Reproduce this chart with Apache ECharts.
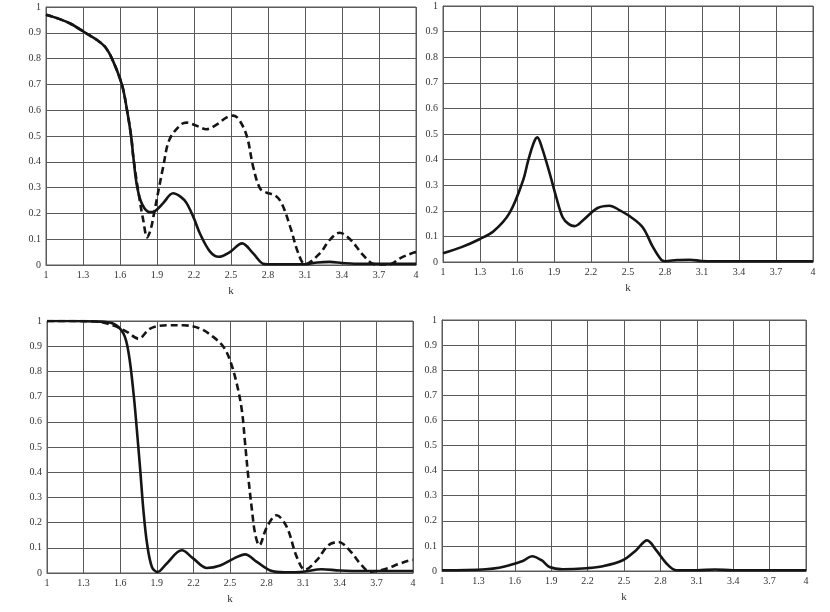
<!DOCTYPE html>
<html>
<head>
<meta charset="utf-8">
<script src="https://cdn.jsdelivr.net/npm/echarts@6/dist/echarts.min.js"></script>
<style>
html,body{margin:0;padding:0;background:#fff;}
#c{width:830px;height:612px;}
</style>
</head>
<body>
<div id="c"></div>
<script>
// x tick labels (k) and y tick labels
const kTicks = [1, 1.3, 1.6, 1.9, 2.2, 2.5, 2.8, 3.1, 3.4, 3.7, 4];
const yTicks = [0, 0.1, 0.2, 0.3, 0.4, 0.5, 0.6, 0.7, 0.8, 0.9, 1];

// Panel 1 (top-left)
const p1SolidK = [1, 1.1, 1.2, 1.32, 1.42, 1.48, 1.535, 1.615, 1.657, 1.69, 1.71, 1.74, 1.78, 1.84, 1.88, 1.95, 2.03, 2.09, 2.14, 2.2, 2.25, 2.33, 2.4, 2.49, 2.59, 2.68, 2.76, 2.8, 3.0, 3.1, 3.2, 3.3, 3.4, 3.5, 3.7, 4];
const p1SolidV = [0.97, 0.955, 0.935, 0.9, 0.87, 0.845, 0.8, 0.7, 0.6, 0.5, 0.41, 0.3, 0.235, 0.205, 0.208, 0.24, 0.278, 0.265, 0.24, 0.18, 0.12, 0.052, 0.032, 0.05, 0.084, 0.045, 0.005, 0.003, 0.003, 0.003, 0.01, 0.012, 0.008, 0.005, 0.005, 0.005];
const p1DashK = [1, 1.1, 1.2, 1.32, 1.42, 1.48, 1.535, 1.615, 1.657, 1.69, 1.71, 1.75, 1.79, 1.82, 1.85, 1.88, 1.95, 2.0, 2.09, 2.14, 2.22, 2.3, 2.38, 2.465, 2.52, 2.57, 2.63, 2.68, 2.735, 2.79, 2.857, 2.91, 2.98, 3.046, 3.1, 3.22, 3.3, 3.38, 3.465, 3.57, 3.65, 3.7, 3.79, 3.87, 3.98, 4];
const p1DashV = [0.97, 0.955, 0.935, 0.9, 0.87, 0.845, 0.8, 0.7, 0.6, 0.5, 0.41, 0.28, 0.17, 0.107, 0.14, 0.21, 0.38, 0.485, 0.543, 0.552, 0.54, 0.526, 0.543, 0.572, 0.579, 0.56, 0.497, 0.38, 0.297, 0.28, 0.27, 0.24, 0.148, 0.045, 0.003, 0.045, 0.097, 0.125, 0.1, 0.039, 0.005, 0.002, 0.003, 0.026, 0.048, 0.05];

// Panel 2 (top-right)
const p2K = [1, 1.15, 1.3, 1.41, 1.54, 1.65, 1.69, 1.735, 1.764, 1.8, 1.865, 1.92, 1.97, 2.02, 2.067, 2.14, 2.25, 2.35, 2.43, 2.52, 2.62, 2.7, 2.77, 2.8, 2.9, 3.0, 3.1, 3.2, 4];
const p2V = [0.034, 0.058, 0.09, 0.12, 0.192, 0.32, 0.395, 0.465, 0.487, 0.45, 0.346, 0.25, 0.175, 0.148, 0.14, 0.165, 0.21, 0.22, 0.203, 0.177, 0.135, 0.06, 0.008, 0.003, 0.008, 0.009, 0.004, 0.003, 0.003];

// Panel 3 (bottom-left)
const p3SolidK = [1, 1.2, 1.4, 1.54, 1.627, 1.67, 1.71, 1.737, 1.764, 1.79, 1.82, 1.86, 1.906, 1.98, 2.105, 2.2, 2.31, 2.42, 2.53, 2.624, 2.72, 2.83, 2.95, 3.1, 3.25, 3.4, 3.6, 4];
const p3SolidV = [1, 1, 0.998, 0.99, 0.95, 0.87, 0.71, 0.566, 0.41, 0.25, 0.117, 0.024, 0.004, 0.037, 0.09, 0.057, 0.02, 0.03, 0.057, 0.074, 0.044, 0.01, 0.003, 0.005, 0.015, 0.01, 0.008, 0.008];
const p3DashK = [1, 1.2, 1.4, 1.54, 1.655, 1.75, 1.846, 1.98, 2.12, 2.255, 2.365, 2.447, 2.5, 2.556, 2.597, 2.624, 2.65, 2.68, 2.706, 2.74, 2.8, 2.88, 2.965, 3.047, 3.115, 3.21, 3.306, 3.39, 3.48, 3.58, 3.65, 3.78, 3.89, 3.975, 4];
const p3DashV = [1, 1, 0.998, 0.983, 0.957, 0.93, 0.97, 0.983, 0.983, 0.97, 0.936, 0.897, 0.844, 0.75, 0.646, 0.513, 0.38, 0.25, 0.156, 0.11, 0.18, 0.229, 0.183, 0.064, 0.013, 0.05, 0.11, 0.123, 0.09, 0.03, 0.005, 0.017, 0.037, 0.05, 0.052];

// Panel 4 (bottom-right)
const p4K = [1, 1.2, 1.36, 1.47, 1.556, 1.666, 1.742, 1.82, 1.886, 1.996, 2.19, 2.326, 2.49, 2.6, 2.69, 2.765, 2.85, 2.93, 3.1, 3.25, 3.4, 4];
const p4V = [0.003, 0.004, 0.007, 0.013, 0.023, 0.04, 0.059, 0.043, 0.016, 0.007, 0.011, 0.019, 0.043, 0.083, 0.122, 0.083, 0.03, 0.003, 0.003, 0.006, 0.003, 0.003];

const K0 = kTicks[0];
const kStep = +(kTicks[1] - kTicks[0]).toFixed(3);
const kSpan = kTicks[kTicks.length - 1] - K0;

function pairs(ks, vs) { return ks.map((k, i) => [k - K0, vs[i]]); }

const font = '"Liberation Serif", "DejaVu Serif", serif';
const gridColor = '#5a5a5a';

const grids = [
  {left: 46, top: 7, width: 370, height: 258},
  {left: 443, top: 6, width: 370, height: 256},
  {left: 47, top: 321, width: 366, height: 252},
  {left: 442, top: 320, width: 364, height: 251}
].map(g => Object.assign({show: true, borderColor: gridColor, borderWidth: 1, backgroundColor: '#fff'}, g));

const xAxes = grids.map((g, i) => ({
  type: 'value', gridIndex: i, min: 0, max: kSpan, interval: kStep,
  name: 'k', nameLocation: 'middle', nameGap: 21,
  nameTextStyle: {fontFamily: font, fontSize: 11, color: '#333'},
  axisLine: {show: true, lineStyle: {color: gridColor, width: 1}},
  axisTick: {show: false},
  axisLabel: {fontFamily: font, fontSize: 10, color: '#333', margin: 5,
    formatter: v => String(Math.round((v + K0) * 10) / 10)},
  splitLine: {show: true, lineStyle: {color: gridColor, width: 1}}
}));

const yAxes = grids.map((g, i) => ({
  type: 'value', gridIndex: i, min: yTicks[0], max: yTicks[yTicks.length - 1], interval: 0.1,
  axisLine: {show: true, lineStyle: {color: gridColor, width: 1}},
  axisTick: {show: false},
  axisLabel: {fontFamily: font, fontSize: 10, color: '#333', margin: 5,
    formatter: v => String(Math.round(v * 10) / 10)},
  splitLine: {show: true, lineStyle: {color: gridColor, width: 1}}
}));

function line(idx, data, dashed) {
  return {
    type: 'line', xAxisIndex: idx, yAxisIndex: idx, data: data,
    showSymbol: false, symbol: 'none', smooth: 0.35, animation: false,
    z: dashed ? 3 : 4,
    lineStyle: {color: '#151515', width: 2.6, type: dashed ? [7, 4] : 'solid'}
  };
}

const chart = echarts.init(document.getElementById('c'), null, {renderer: 'canvas'});
chart.setOption({
  backgroundColor: '#fff',
  animation: false,
  grid: grids,
  xAxis: xAxes,
  yAxis: yAxes,
  series: [
    line(0, pairs(p1DashK, p1DashV), true),
    line(0, pairs(p1SolidK, p1SolidV), false),
    line(1, pairs(p2K, p2V), false),
    line(2, pairs(p3DashK, p3DashV), true),
    line(2, pairs(p3SolidK, p3SolidV), false),
    line(3, pairs(p4K, p4V), false)
  ]
});
</script>
</body>
</html>
